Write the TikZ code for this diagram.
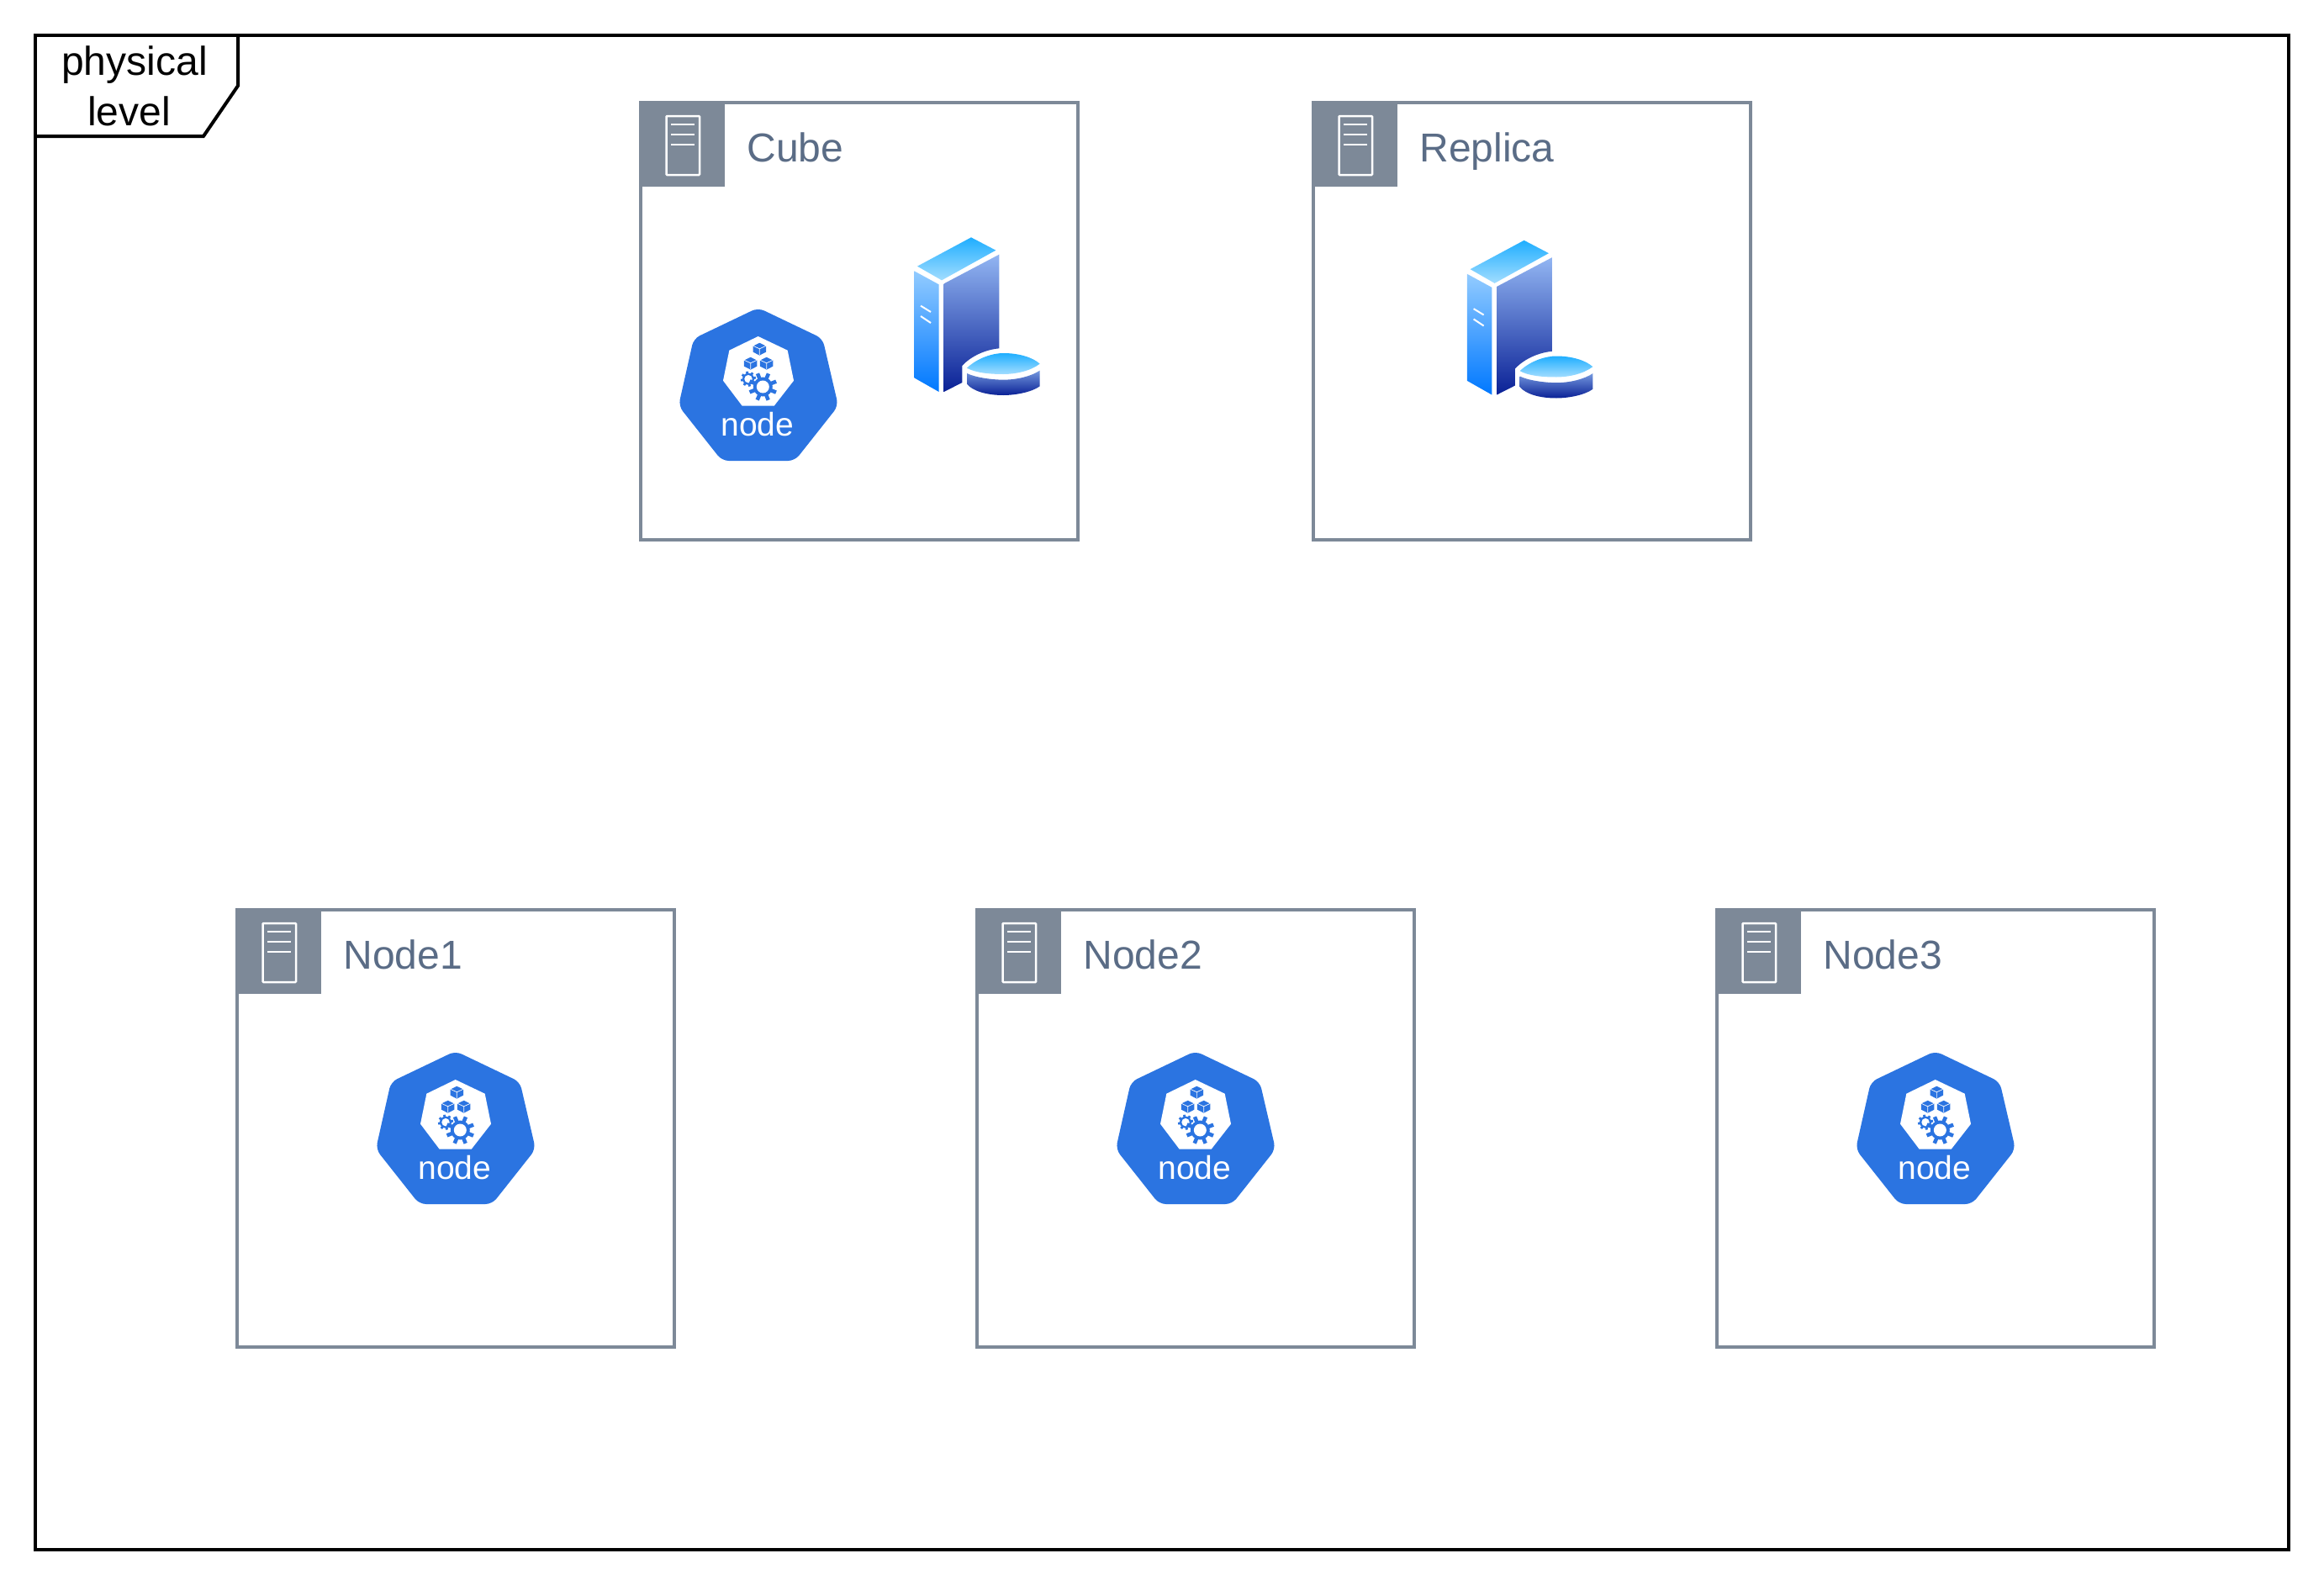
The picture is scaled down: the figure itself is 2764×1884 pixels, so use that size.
\documentclass[tikz,border=0pt]{standalone}
\usepackage{fontspec}
\setmainfont{Liberation Sans}
\definecolor{awsline}{HTML}{7D8998}
\definecolor{awstext}{HTML}{5A6C86}
\definecolor{kblue}{HTML}{2B74E1}
\tikzset{
  x=1pt,y=-1pt,
  framebox/.style={draw=black,line width=4pt,fill=none},
  serverbox/.style={draw=awsline,line width=4pt,fill=white,minimum width=520pt,minimum height=520pt,anchor=north west,inner sep=0pt,outer sep=0pt},
  headbox/.style={fill=awsline,draw=none,minimum width=102pt,minimum height=102pt,anchor=north west,inner sep=0pt,outer sep=0pt},
  boxtitle/.style={text=awstext,font=\fontsize{48}{56}\selectfont,anchor=base west,inner sep=0pt,outer sep=0pt},
  headline/.style={draw=white,line width=2.5pt},
  gearbody/.style={fill=kblue,draw=none},
  pics/cubeglyph/.style={code={
    \fill[kblue] (0,-7.2)--(7.8,-3.4)--(7.8,3.6)--(0,7.6)--(-7.8,3.6)--(-7.8,-3.4)--cycle;
    \draw[white,line width=.7pt] (-7.4,-3.6)--(0,-.2)--(7.4,-3.6) (0,-.2)--(0,7.2);
  }},
  pics/gearglyph/.style n args={4}{code={
    \foreach \a in {0,45,...,315}{
      \fill[kblue,rotate=\a+#4] (-#3*.3,0)rectangle(#3*.3,#1);
    }
    \fill[gearbody] (0,0) circle[radius=#2];
    \fill[white] (0,0) circle[radius=#3];
  }},
  pics/k8sicon/.style={code={
    \begin{scope}[scale=1/3]
      \fill[kblue,rounded corners=8pt] (335,60)--(565,170)--(621,410)--(466,606)--(206,606)--(51,410)--(105,170)--cycle;
      \fill[white] (335,162)--(440,212)--(462,320)--(392,410)--(278,410)--(210,320)--(232,212)--cycle;
      \pic at (340,207) {cubeglyph};
      \pic at (308,258) {cubeglyph};
      \pic at (365,258) {cubeglyph};
      \pic at (300,314) {gearglyph={9}{7}{4.7}{10}};
      \pic at (352,342) {gearglyph={17}{11.5}{7.5}{22}};
    \end{scope}
    \node[text=white,font=\fontsize{39}{42}\selectfont,anchor=base,inner sep=0pt,outer sep=0pt] (-label) at (110.8,172.8) {node};
  }},
  pics/servericon/.style={code={
    \begin{scope}[scale=1/3]
      \shade[top color=cA,bottom color=cB] (82,187)--(170,235)--(170,618)--(82,568)--cycle;
      \shade[top color=cC,bottom color=cD] (188,232)--(385,128)--(385,463) .. controls (330,468) and (280,495) .. (253,525)--(253,585)--(188,618)--cycle;
      \shade[top color=cE,bottom color=cF] (93,170)--(285,67)--(373,113)--(180,220)--cycle;
      \draw[white,line width=2pt] (105,311)--(141,333) (105,348)--(141,372);
      \shade[top color=cE,bottom color=cF] (270,533) .. controls (310,495) and (365,480) .. (400,480) .. controls (455,480) and (505,495) .. (530,518) .. controls (495,545) and (440,555) .. (400,555) .. controls (350,555) and (300,550) .. (270,533)--cycle;
      \shade[top color=cG,bottom color=cD] (270,552) .. controls (300,567) and (360,575) .. (400,575) .. controls (450,575) and (500,562) .. (530,542)--(530,598) .. controls (500,620) and (440,630) .. (400,630) .. controls (340,630) and (290,615) .. (270,590)--cycle;
    \end{scope}
  }},
}
\definecolor{cA}{HTML}{92CBFF}
\definecolor{cB}{HTML}{0078FF}
\definecolor{cC}{HTML}{92B5F2}
\definecolor{cD}{HTML}{0A2196}
\definecolor{cE}{HTML}{1FAEFF}
\definecolor{cF}{HTML}{A2DDFF}
\definecolor{cG}{HTML}{7498DE}
\newcommand{\serverbox}[3]{%
  \node[serverbox] (#1) at (#2) {};
  \node[headbox] (#1head) at ([shift={(-2pt,2pt)}]#1.north west) {};
  \draw[headline,rounded corners=.8pt] ([shift={(30.5pt,-16pt)}]#1.north west) rectangle ([shift={(70pt,-86pt)}]#1.north west);
  \foreach \yy in {26,38,50}{
    \draw[headline] ([shift={(36pt,-\yy pt)}]#1.north west) -- ([shift={(64pt,-\yy pt)}]#1.north west);
  }
  \node[boxtitle] (#1title) at ([shift={(126.5pt,-70pt)}]#1.north west) {#3};
}
\begin{document}
\begin{tikzpicture}
\useasboundingbox (0,0) rectangle (2764,1884);
\fill[white] (0,0) rectangle (2764,1884);
\draw[framebox] (42,42) rectangle (2722,1843);
\draw[framebox,line join=miter] (42,162)--(242,162)--(283,102)--(283,42);
\node[font=\fontsize{48}{60}\selectfont,align=center,inner sep=0pt,outer sep=0pt,anchor=center] (tag) at (160,102) {physical\\level\hspace*{13pt}};
\serverbox{cube}{762,122}{Cube}
\serverbox{replica}{1562,122}{Replica}
\serverbox{nodeA}{282,1082}{Node1}
\serverbox{nodeB}{1162,1082}{Node2}
\serverbox{nodeC}{2042,1082}{Node3}
\pic (kCube) at (790,346) {k8sicon};
\pic (kA) at (430,1230) {k8sicon};
\pic (kB) at (1310,1230) {k8sicon};
\pic (kC) at (2190,1230) {k8sicon};
\pic (sCube) at (1060,260) {servericon};
\pic (sReplica) at (1717.6,263.5) {servericon};
\end{tikzpicture}
\end{document}
